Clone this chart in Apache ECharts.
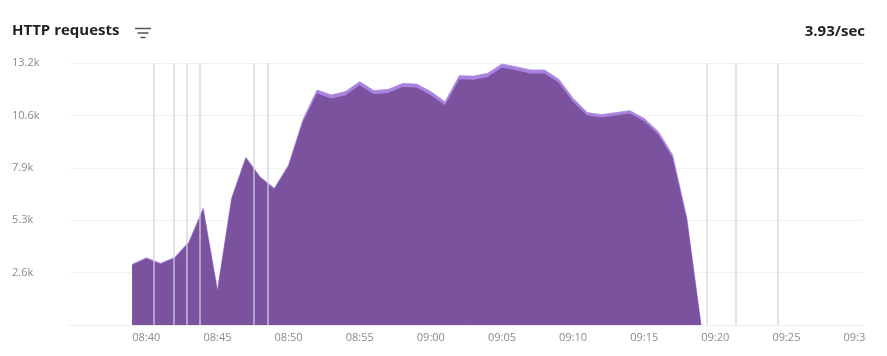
<!DOCTYPE html>
<html>
<head>
<meta charset="utf-8">
<script src="https://cdn.jsdelivr.net/npm/echarts@6/dist/echarts.min.js"></script>
<style>
  html, body { margin: 0; padding: 0; background: #fff; }
  #wrap { width: 866px; height: 356px; overflow: hidden; position: relative; }
  #chart { width: 887px; height: 356px; }
</style>
</head>
<body>
<div id="wrap"><div id="chart"></div></div>
<script>
// ---- data ----
const minutes = ['08:39','08:40','08:41','08:42','08:43','08:44','08:45','08:46','08:47','08:48','08:49','08:50',
  '08:51','08:52','08:53','08:54','08:55','08:56','08:57','08:58','08:59','09:00','09:01','09:02','09:03','09:04',
  '09:05','09:06','09:07','09:08','09:09','09:10','09:11','09:12','09:13','09:14','09:15','09:16','09:17','09:18','09:19'];
const okRequests = [3020,3350,3070,3370,4160,5840,1720,6370,8410,7430,6850,8020,
  10230,11660,11410,11580,12080,11630,11690,11990,11960,11580,11070,12380,12360,12500,
  12970,12830,12670,12670,12200,11240,10550,10450,10550,10650,10260,9590,8420,5320,0];
const otherRequests = [40,40,40,40,40,40,40,40,40,40,40,40,
  100,180,180,180,180,180,180,180,180,180,180,180,180,180,
  180,180,180,180,180,180,150,150,150,150,150,150,150,60,0];
const eventTimes = ['08:40:30','08:41:56','08:42:51','08:43:44','08:47:33','08:48:33','09:19:25','09:21:25','09:24:25'];
const xTickLabels = ['08:40','08:45','08:50','08:55','09:00','09:05','09:10','09:15','09:20','09:25','09:30'];
const axisStart = '08:34:38';
const axisEnd = '09:30:23';
const yTicks = [0, 2640, 5280, 7920, 10560, 13200];
const rateText = '3.93/sec';
const titleText = 'HTTP requests';

// ---- helpers: time as seconds since midnight ----
function secs(hms) {
  const p = hms.split(':').map(Number);
  return p[0] * 3600 + p[1] * 60 + (p[2] || 0);
}
function pad(n) { return (n < 10 ? '0' : '') + n; }
function fmtTime(v) { const h = Math.floor(v / 3600), m = Math.round((v % 3600) / 60); return pad(h) + ':' + pad(m); }

// stacked manually: light band = ok + other, drawn beneath the ok area
const okData = minutes.map((m, i) => [secs(m), okRequests[i]]);
const totalData = minutes.map((m, i) => [secs(m), okRequests[i] + otherRequests[i]]);

const chart = echarts.init(document.getElementById('chart'), null, { renderer: 'canvas' });
const font = '"Open Sans", "Noto Sans", sans-serif';

chart.setOption({
  animation: false,
  textStyle: { fontFamily: font },
  grid: { left: 70, right: 24, top: 63, bottom: 31, containLabel: false },
  xAxis: {
    type: 'value',
    min: secs(axisStart),
    max: secs(axisEnd),
    axisLine: { show: true, lineStyle: { color: '#ececf0', width: 1 } },
    axisTick: { show: false },
    splitLine: { show: false },
    axisLabel: {
      customValues: xTickLabels.map(secs),
      formatter: v => fmtTime(v),
      color: '#8a8a8a',
      fontSize: 11,
      margin: 7,
      fontFamily: font
    }
  },
  yAxis: {
    type: 'value',
    min: yTicks[0],
    max: yTicks[yTicks.length - 1],
    interval: yTicks[1] - yTicks[0],
    axisLine: { show: false },
    axisTick: { show: false },
    splitLine: { show: true, lineStyle: { color: '#f2f2f4', width: 1 } },
    axisLabel: {
      formatter: v => v === 0 ? '' : (v / 1000).toFixed(1) + 'k',
      color: '#8a8a8a',
      fontSize: 11,
      align: 'left',
      margin: 58,
      fontFamily: font
    }
  },
  series: [
    {
      name: 'total',
      type: 'line',
      data: totalData,
      symbol: 'none',
      lineStyle: { width: 0.8, color: '#b08ae4' },
      areaStyle: { color: '#a983e0', opacity: 1 },
      z: 2
    },
    {
      name: 'ok',
      type: 'line',
      data: okData,
      symbol: 'none',
      lineStyle: { width: 0 },
      areaStyle: { color: '#7b529e', opacity: 1 },
      z: 3,
      markLine: {
        silent: true,
        symbol: 'none',
        label: { show: false },
        lineStyle: { color: 'rgba(208,208,228,0.85)', type: 'solid', width: 1.5 },
        data: eventTimes.map(t => ({ xAxis: secs(t) })),
        z: 5
      }
    }
  ],
  graphic: [
    {
      type: 'text', left: 12, top: 23,
      style: { text: titleText, font: 'bold 15px ' + font, fill: '#1f1f24' }
    },
    { type: 'line', shape: { x1: 135, y1: 28.5, x2: 151, y2: 28.5 }, style: { stroke: '#555', lineWidth: 1.5 } },
    { type: 'line', shape: { x1: 137.5, y1: 33, x2: 148.5, y2: 33 }, style: { stroke: '#555', lineWidth: 1.5 } },
    { type: 'line', shape: { x1: 140.5, y1: 37.5, x2: 145.5, y2: 37.5 }, style: { stroke: '#555', lineWidth: 1.5 } },
    {
      type: 'text', x: 865, y: 32,
      style: { text: rateText, font: 'bold 15px ' + font, fill: '#1f1f24', align: 'right', verticalAlign: 'middle' }
    }
  ]
});
</script>
</body>
</html>
